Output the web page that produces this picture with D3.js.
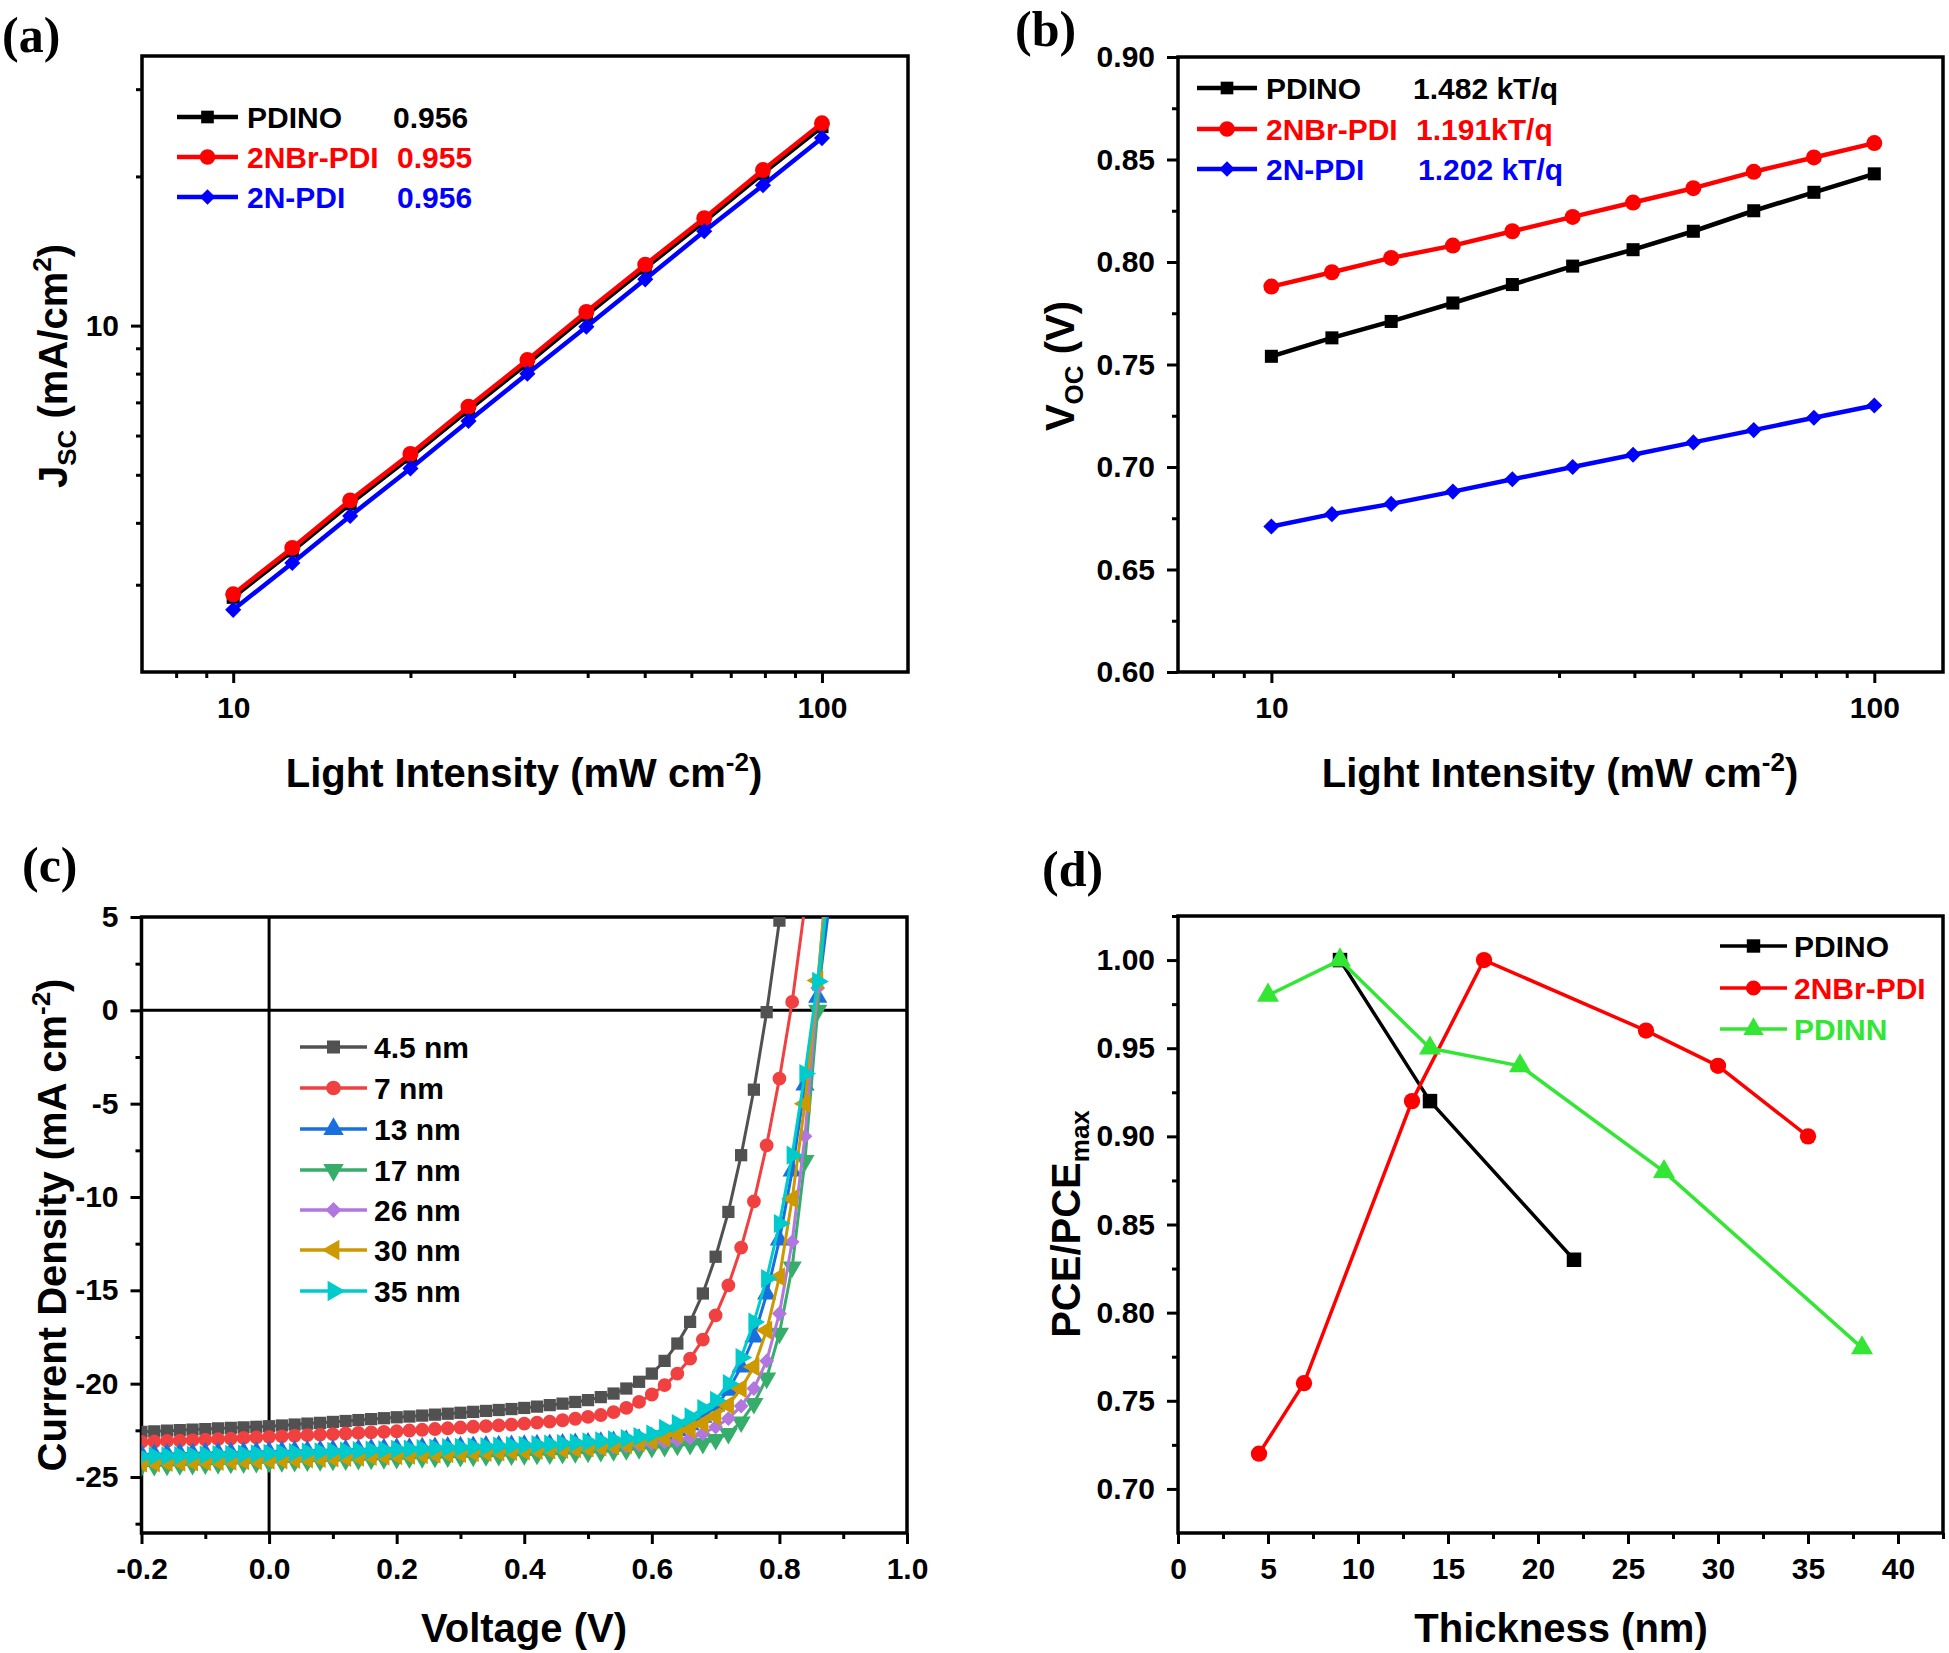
<!DOCTYPE html>
<html><head><meta charset="utf-8">
<script src="https://cdn.jsdelivr.net/npm/d3@7"></script>
<style>
body{margin:0;background:#fff}
svg{display:block}
text{font-family:"Liberation Sans",Arial,sans-serif;font-weight:bold}
</style>
</head><body>
<svg id="fig" width="1949" height="1653"></svg>
<script>
// ---------- data ----------
const intensity = [10, 12.6, 15.8, 20, 25.1, 31.6, 39.8, 50.1, 63.1, 79.4, 100];
const jscPDINO = [2.83, 3.51, 4.37, 5.43, 6.76, 8.39, 10.50, 13.07, 16.22, 20.29, 25.2];
const jscNBr   = [2.87, 3.56, 4.44, 5.51, 6.86, 8.52, 10.66, 13.27, 16.47, 20.6, 25.6];
const jscN     = [2.67, 3.32, 4.13, 5.15, 6.42, 8.00, 9.95, 12.4, 15.5, 19.2, 23.9];
const vocPDINO = [0.754, 0.763, 0.771, 0.780, 0.789, 0.798, 0.806, 0.815, 0.825, 0.834, 0.843];
const vocNBr   = [0.788, 0.795, 0.802, 0.808, 0.815, 0.822, 0.829, 0.836, 0.844, 0.851, 0.858];
const vocN     = [0.671, 0.677, 0.682, 0.688, 0.694, 0.700, 0.706, 0.712, 0.718, 0.724, 0.730];
const seriesA = ["PDINO", "2NBr-PDI", "2N-PDI"];
const idealityA = ["0.956", "0.955", "0.956"];
const slopeB = ["1.482 kT/q", "1.191kT/q", "1.202 kT/q"];

const voltage = [-0.20,-0.18,-0.16,-0.14,-0.12,-0.10,-0.08,-0.06,-0.04,-0.02,0.00,
 0.02,0.04,0.06,0.08,0.10,0.12,0.14,0.16,0.18,0.20,
 0.22,0.24,0.26,0.28,0.30,0.32,0.34,0.36,0.38,0.40,
 0.42,0.44,0.46,0.48,0.50,0.52,0.54,0.56,0.58,0.60,
 0.62,0.64,0.66,0.68,0.70,0.72,0.74,0.76,0.78,0.80,
 0.82,0.84,0.86,0.88];
const jv45 = [-22.58,-22.55,-22.52,-22.49,-22.46,-22.43,-22.40,-22.37,-22.34,-22.31,-22.28,
 -22.24,-22.19,-22.14,-22.10,-22.05,-22.00,-21.95,-21.90,-21.85,-21.80,
 -21.76,-21.71,-21.66,-21.61,-21.56,-21.51,-21.46,-21.41,-21.36,-21.30,
 -21.23,-21.15,-21.07,-20.98,-20.88,-20.72,-20.53,-20.26,-19.90,-19.46,
 -18.78,-17.85,-16.69,-15.17,-13.20,-10.80,-7.76,-4.25,-0.10,4.80];
const jv7 = [-23.12,-23.10,-23.07,-23.05,-23.02,-23.00,-22.97,-22.94,-22.91,-22.88,-22.85,
 -22.82,-22.79,-22.76,-22.73,-22.70,-22.67,-22.64,-22.61,-22.58,-22.55,
 -22.51,-22.47,-22.43,-22.39,-22.35,-22.31,-22.27,-22.23,-22.19,-22.14,
 -22.09,-22.03,-21.96,-21.88,-21.78,-21.68,-21.52,-21.30,-20.98,-20.58,
 -20.08,-19.46,-18.66,-17.64,-16.34,-14.73,-12.71,-10.23,-7.23,-3.66,
 0.45,5.60];
const jv13 = [-23.80,-23.78,-23.77,-23.75,-23.74,-23.72,-23.71,-23.69,-23.68,-23.66,-23.65,
 -23.63,-23.61,-23.60,-23.58,-23.56,-23.54,-23.53,-23.51,-23.49,-23.47,
 -23.46,-23.44,-23.42,-23.40,-23.39,-23.37,-23.35,-23.33,-23.32,-23.30,
 -23.28,-23.26,-23.24,-23.21,-23.18,-23.14,-23.10,-23.05,-22.98,-22.90,
 -22.75,-22.50,-22.20,-21.80,-21.20,-20.35,-19.10,-17.50,-15.20,-12.30,
 -8.60,-4.00,0.70,6.20];
const jv17 = [-24.40,-24.38,-24.36,-24.34,-24.32,-24.30,-24.28,-24.26,-24.24,-24.22,-24.20,
 -24.18,-24.16,-24.14,-24.12,-24.10,-24.08,-24.06,-24.04,-24.02,-24.00,
 -23.98,-23.96,-23.94,-23.92,-23.90,-23.88,-23.86,-23.84,-23.82,-23.80,
 -23.78,-23.76,-23.73,-23.70,-23.67,-23.63,-23.59,-23.54,-23.48,-23.42,
 -23.36,-23.30,-23.25,-23.20,-22.99,-22.67,-22.05,-21.06,-19.70,-17.30,
 -13.75,-8.05,0.00,9.00];
const jv26 = [-24.00,-23.99,-23.97,-23.96,-23.94,-23.93,-23.91,-23.90,-23.88,-23.87,-23.85,
 -23.84,-23.82,-23.81,-23.79,-23.78,-23.76,-23.75,-23.73,-23.72,-23.70,
 -23.69,-23.67,-23.66,-23.64,-23.63,-23.61,-23.60,-23.58,-23.57,-23.55,
 -23.54,-23.52,-23.50,-23.48,-23.45,-23.42,-23.38,-23.34,-23.28,-23.20,
 -23.12,-23.03,-22.90,-22.67,-22.32,-21.87,-21.20,-20.26,-18.78,-16.24,
 -12.40,-6.75,1.20,10.00];
const jv30 = [-24.25,-24.24,-24.22,-24.21,-24.19,-24.18,-24.16,-24.15,-24.13,-24.12,-24.10,
 -24.08,-24.05,-24.03,-24.00,-23.98,-23.95,-23.93,-23.90,-23.88,-23.85,
 -23.83,-23.80,-23.78,-23.75,-23.73,-23.70,-23.68,-23.65,-23.63,-23.60,
 -23.58,-23.55,-23.52,-23.48,-23.44,-23.39,-23.33,-23.26,-23.17,-23.05,
 -22.90,-22.70,-22.45,-22.14,-21.75,-21.15,-20.26,-19.10,-17.14,-14.28,
 -10.10,-5.00,1.60,9.00];
const jv35 = [-23.90,-23.88,-23.87,-23.85,-23.84,-23.82,-23.80,-23.79,-23.77,-23.76,-23.74,
 -23.72,-23.70,-23.67,-23.65,-23.63,-23.61,-23.59,-23.56,-23.54,-23.52,
 -23.50,-23.48,-23.45,-23.43,-23.41,-23.39,-23.37,-23.34,-23.32,-23.30,
 -23.27,-23.24,-23.21,-23.17,-23.12,-23.07,-23.01,-22.94,-22.84,-22.70,
 -22.40,-22.14,-21.78,-21.33,-20.90,-20.00,-18.60,-16.70,-14.37,-11.42,
 -7.76,-3.39,1.55,7.50];
const jvLabels = ["4.5 nm", "7 nm", "13 nm", "17 nm", "26 nm", "30 nm", "35 nm"];

const thickPDINO = [9, 14, 22];
const pcePDINO   = [1.00, 0.92, 0.83];
const thickNBr   = [4.5, 7, 13, 17, 26, 30, 35];
const pceNBr     = [0.72, 0.76, 0.92, 1.00, 0.96, 0.94, 0.90];
const thickPDINN = [5, 9, 14, 19, 27, 38];
const pcePDINN   = [0.98, 1.00, 0.95, 0.94, 0.88, 0.78];
const seriesD = ["PDINO", "2NBr-PDI", "PDINN"];

// ---------- helpers ----------
const svg = d3.select("#fig");
const TICKFS = 30, TITLEFS = 40, LEGFS = 30;
const hy = f => (d => f(d).replace("\u2212", "-"));

function styleAxis(sel) {
  sel.select(".domain").remove();
  sel.selectAll(".tick line").attr("stroke", "#000").attr("stroke-width", 3);
  sel.selectAll(".tick text").attr("fill", "#000").style("font-size", TICKFS + "px")
     .style("font-weight", "bold").style("font-family", '"Liberation Sans",Arial,sans-serif');
}
function drawAxes(x, y, o) {
  const [x0, x1] = x.range(), [y0, y1] = y.range(); // y0 bottom
  const g = svg.append("g");
  g.append("g").attr("transform", `translate(0,${y0})`)
    .call(d3.axisBottom(x).tickValues(o.xMinor).tickSize(6).tickFormat("")).call(styleAxis);
  g.append("g").attr("transform", `translate(0,${y0})`)
    .call(d3.axisBottom(x).tickValues(o.xMajor).tickSize(11).tickPadding(14).tickFormat(o.xFmt)).call(styleAxis);
  g.append("g").attr("transform", `translate(${x0},0)`)
    .call(d3.axisLeft(y).tickValues(o.yMinor).tickSize(6).tickFormat("")).call(styleAxis);
  g.append("g").attr("transform", `translate(${x0},0)`)
    .call(d3.axisLeft(y).tickValues(o.yMajor).tickSize(11).tickPadding(12).tickFormat(o.yFmt)).call(styleAxis);
  g.append("rect").attr("x", x0).attr("y", y1).attr("width", x1 - x0).attr("height", y0 - y1)
    .attr("fill", "none").attr("stroke", "#000").attr("stroke-width", 3.5);
}
let clipN = 0;
function clipFor(x, y) {
  const id = "clip" + (clipN++);
  const [x0, x1] = x.range(), [y0, y1] = y.range();
  svg.append("clipPath").attr("id", id).append("rect")
    .attr("x", x0).attr("y", y1).attr("width", x1 - x0).attr("height", y0 - y1);
  return svg.append("g").attr("clip-path", `url(#${id})`);
}
function symPath(type, size) { return d3.symbol().type(type).size(size)(); }
const MK = {
  square: {t: d3.symbolSquare, r: 0},
  circle: {t: d3.symbolCircle, r: 0},
  diamond: {t: d3.symbolSquare, r: 45},
  up: {t: d3.symbolTriangle, r: 0},
  down: {t: d3.symbolTriangle, r: 180},
  left: {t: d3.symbolTriangle, r: -90},
  right: {t: d3.symbolTriangle, r: 90}
};
function marker(g, kind, size, cx, cy, color) {
  const m = MK[kind];
  g.append("path").attr("d", symPath(m.t, size))
    .attr("transform", `translate(${cx},${cy}) rotate(${m.r})`).attr("fill", color);
}
function series(g, x, y, xs, ys, color, kind, size, lw) {
  const pts = xs.map((v, i) => [v, ys[i]]).filter(p => p[1] !== undefined);
  g.append("path").datum(pts).attr("fill", "none").attr("stroke", color).attr("stroke-width", lw)
    .attr("stroke-linejoin", "round")
    .attr("d", d3.line().x(p => x(p[0])).y(p => y(p[1])));
  pts.forEach(p => marker(g, kind, size, x(p[0]), y(p[1]), color));
}
function legendRow(x1, x2, yy, color, kind, size, lw) {
  svg.append("line").attr("x1", x1).attr("x2", x2).attr("y1", yy).attr("y2", yy)
    .attr("stroke", color).attr("stroke-width", lw);
  marker(svg, kind, size, (x1 + x2) / 2, yy, color);
}
function txt(x, yy, s, color, fs, anchor) {
  return svg.append("text").attr("x", x).attr("y", yy).attr("fill", color || "#000")
    .style("font-size", (fs || LEGFS) + "px").attr("text-anchor", anchor || "start").text(s);
}
function panelLabel(x, yy, s) {
  svg.append("text").attr("x", x).attr("y", yy).text(s)
    .style("font-family", '"Liberation Serif","Times New Roman",serif')
    .style("font-size", "50px").style("font-weight", "bold");
}
function yTitle(cx, cy, parts) {
  const t = svg.append("text").attr("transform", `translate(${cx},${cy}) rotate(-90)`)
    .attr("text-anchor", "middle").style("font-size", TITLEFS + "px");
  addParts(t, parts);
}
function xTitle(cx, by, parts) {
  const t = svg.append("text").attr("x", cx).attr("y", by)
    .attr("text-anchor", "middle").style("font-size", TITLEFS + "px");
  addParts(t, parts);
}
function addParts(t, parts) {
  let shift = 0;
  parts.forEach(([s, k]) => {
    const target = k === "sub" ? 9 : k === "sup" ? -16 : 0;
    t.append("tspan").attr("dy", target - shift)
      .style("font-size", k === "n" ? TITLEFS + "px" : "26px").text(s);
    shift = target;
  });
}

const colA = ["#000000", "#ff0000", "#0000ff"];
const mkA = ["square", "circle", "diamond"];
const szA = [170, 200, 130];

// ---------- panel (a) ----------
{
  const x = d3.scaleLog().domain([7, 140]).range([142, 908]);
  const y = d3.scaleLog().domain([2, 35]).range([672, 56]);
  drawAxes(x, y, {
    xMajor: [10, 100], xMinor: [8, 9, 20, 30, 40, 50, 60, 70, 80, 90], xFmt: d3.format("d"),
    yMajor: [10], yMinor: [3, 4, 5, 6, 7, 8, 9, 20, 30], yFmt: d3.format("d")
  });
  const g = clipFor(x, y);
  [jscPDINO, jscNBr, jscN].forEach((ys, i) =>
    series(g, x, y, intensity, ys, colA[i], mkA[i], szA[i], 4.5));
  const rows = [117, 157, 197], vx = [393, 397, 397];
  seriesA.forEach((s, i) => {
    legendRow(177, 238, rows[i], colA[i], mkA[i], szA[i] - 10, 4.5);
    txt(247, rows[i] + 11, s, colA[i]);
    txt(vx[i], rows[i] + 11, idealityA[i], colA[i]);
  });
  yTitle(67, 366, [["J", "n"], ["SC", "sub"], [" (mA/cm", "n"], ["2", "sup"], [")", "n"]]);
  xTitle(524, 787, [["Light Intensity (mW cm", "n"], ["-2", "sup"], [")", "n"]]);
  panelLabel(2, 52, "(a)");
}

// ---------- panel (b) ----------
{
  const x = d3.scaleLog().domain([7, 130]).range([1178, 1943]);
  const y = d3.scaleLinear().domain([0.6, 0.9]).range([672, 57]);
  drawAxes(x, y, {
    xMajor: [10, 100], xMinor: [8, 9, 20, 30, 40, 50, 60, 70, 80, 90], xFmt: d3.format("d"),
    yMajor: [0.60, 0.65, 0.70, 0.75, 0.80, 0.85, 0.90],
    yMinor: [0.625, 0.675, 0.725, 0.775, 0.825, 0.875], yFmt: d3.format(".2f")
  });
  const g = clipFor(x, y);
  [vocPDINO, vocNBr, vocN].forEach((ys, i) =>
    series(g, x, y, intensity, ys, colA[i], mkA[i], szA[i], 4.5));
  const rows = [88, 129, 169], vx = [1413, 1416, 1418];
  seriesA.forEach((s, i) => {
    legendRow(1197, 1257, rows[i], colA[i], mkA[i], szA[i] - 10, 4.5);
    txt(1266, rows[i] + 11, s, colA[i]);
    txt(vx[i], rows[i] + 11, slopeB[i], colA[i]);
  });
  yTitle(1074, 366, [["V", "n"], ["OC", "sub"], [" (V)", "n"]]);
  xTitle(1560, 787, [["Light Intensity (mW cm", "n"], ["-2", "sup"], [")", "n"]]);
  panelLabel(1015, 46, "(b)");
}

// ---------- panel (c) ----------
{
  const x = d3.scaleLinear().domain([-0.2, 1.0]).range([141.5, 907]);
  const y = d3.scaleLinear().domain([-28, 5]).range([1533, 917]);
  const g0 = svg.append("g");
  g0.append("line").attr("x1", x(-0.2)).attr("x2", x(1.0)).attr("y1", y(0)).attr("y2", y(0))
    .attr("stroke", "#000").attr("stroke-width", 3);
  g0.append("line").attr("x1", x(0)).attr("x2", x(0)).attr("y1", y(-28)).attr("y2", y(5))
    .attr("stroke", "#000").attr("stroke-width", 3);
  drawAxes(x, y, {
    xMajor: [-0.2, 0, 0.2, 0.4, 0.6, 0.8, 1.0], xMinor: [-0.1, 0.1, 0.3, 0.5, 0.7, 0.9],
    xFmt: hy(d3.format(".1f")),
    yMajor: [5, 0, -5, -10, -15, -20, -25], yMinor: [2.5, -2.5, -7.5, -12.5, -17.5, -22.5, -27.5],
    yFmt: d => String(d)
  });
  const cols = ["#515151", "#f14040", "#1a6fdf", "#37ad6b", "#b177de", "#cc9900", "#00cbcc"];
  const mks = ["square", "circle", "up", "down", "diamond", "left", "right"];
  const sizes = [150, 150, 160, 160, 110, 160, 160];
  const g = clipFor(x, y);
  [jv45, jv7, jv13, jv17, jv26, jv30, jv35].forEach((ys, i) =>
    series(g, x, y, voltage, ys, cols[i], mks[i], sizes[i], 3));
  const rows = [1047, 1088, 1129, 1170, 1210, 1250, 1291];
  jvLabels.forEach((s, i) => {
    legendRow(300, 367, rows[i], cols[i], mks[i], sizes[i] + 20, 3.5);
    txt(374, rows[i] + 11, s, "#000");
  });
  yTitle(66, 1225, [["Current Density (mA cm", "n"], ["-2", "sup"], [")", "n"]]);
  xTitle(524, 1642, [["Voltage (V)", "n"]]);
  panelLabel(22, 882, "(c)");
}

// ---------- panel (d) ----------
{
  const x = d3.scaleLinear().domain([0, 42.5]).range([1178, 1943]);
  const y = d3.scaleLinear().domain([0.675, 1.025]).range([1533, 916]);
  drawAxes(x, y, {
    xMajor: [0, 5, 10, 15, 20, 25, 30, 35, 40], xMinor: [2.5, 7.5, 12.5, 17.5, 22.5, 27.5, 32.5, 37.5, 42.5],
    xFmt: d3.format("d"),
    yMajor: [0.70, 0.75, 0.80, 0.85, 0.90, 0.95, 1.00],
    yMinor: [0.725, 0.775, 0.825, 0.875, 0.925, 0.975, 1.025], yFmt: d3.format(".2f")
  });
  const cols = ["#000000", "#ff0000", "#33e633"];
  const mks = ["square", "circle", "up"];
  const g = clipFor(x, y);
  series(g, x, y, thickPDINO, pcePDINO, cols[0], mks[0], 210, 3.5);
  series(g, x, y, thickNBr, pceNBr, cols[1], mks[1], 210, 3.5);
  series(g, x, y, thickPDINN, pcePDINN, cols[2], mks[2], 210, 3.5);
  const rows = [946, 988, 1029];
  seriesD.forEach((s, i) => {
    legendRow(1720, 1787, rows[i], cols[i], mks[i], 180, 3.5);
    txt(1794, rows[i] + 11, s, cols[i]);
  });
  yTitle(1080, 1224, [["PCE/PCE", "n"], ["max", "sub"]]);
  xTitle(1561, 1642, [["Thickness (nm)", "n"]]);
  panelLabel(1042, 886, "(d)");
}
</script>
</body></html>
